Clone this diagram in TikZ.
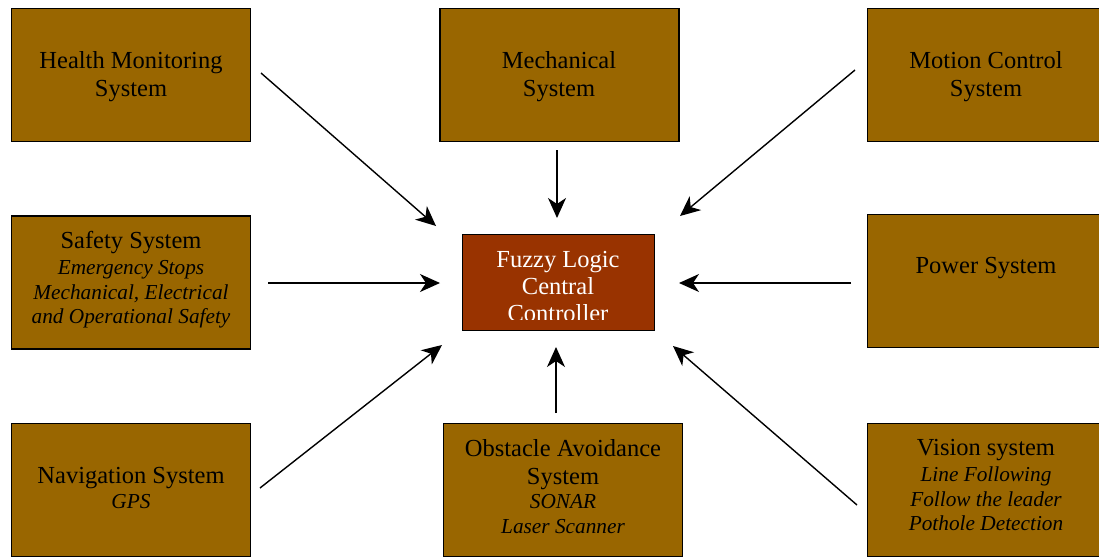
\documentclass[tikz,border=0pt]{standalone}
\usepackage{fontspec}
\setmainfont{Liberation Serif}
\usetikzlibrary{arrows.meta}
\definecolor{boxfill}{HTML}{996600}
\definecolor{corefill}{HTML}{993300}
\begin{document}
\begin{tikzpicture}[x=1pt,y=-1pt,
  sysbox/.style={draw=black,line width=1.6pt,fill=boxfill,minimum width=239pt,minimum height=133pt,inner sep=0pt},
  corebox/.style={draw=black,line width=1.6pt,fill=corefill,minimum width=192pt,minimum height=96pt,inner sep=0pt},
  lbl/.style={align=center,inner sep=0pt,font=\fontsize{24.5}{24.5}\selectfont},
  conn/.style={line width=1.4pt,-{Stealth[length=20pt,width=18pt,inset=6pt]}}]
\useasboundingbox (0,0) rectangle (1099,557);
\newcommand{\itln}[1]{{\itshape\fontsize{21.3}{24}\selectfont #1}}
% boxes
\node[sysbox] (health) at (131,75) {};
\node[sysbox] (mech) at (559.5,75) {};
\node[sysbox] (motion) at (987,75) {};
\node[sysbox] (safety) at (131,282.5) {};
\node[sysbox] (power) at (987,281) {};
\node[sysbox] (nav) at (131,490) {};
\node[sysbox] (obst) at (563,490) {};
\node[sysbox] (vision) at (987,490) {};
\node[corebox] (core) at (558.5,282.5) {};
% labels
\node[lbl] (healtht) at (131,76.5) {Health Monitoring\\[3.5pt]System};
\node[lbl] (mecht) at (559,76.5) {Mechanical\\[3.5pt]System};
\node[lbl] (motiont) at (986,76.5) {Motion Control\\[3.5pt]System};
\node[lbl] (safetyt) at (131,280) {Safety System\\[1.5pt]\itln{Emergency Stops}\\\itln{Mechanical, Electrical}\\\itln{and Operational Safety}};
\node[lbl] (powert) at (986,268) {Power System};
\node[lbl] (navt) at (131,488) {Navigation System\\\itln{GPS}};
\node[lbl] (obstt) at (563,486.5) {Obstacle Avoidance\\[3.5pt]System\\\itln{SONAR}\\\itln{Laser Scanner}};
\node[lbl] (visiont) at (986,485) {Vision system\\[1.5pt]\itln{Line Following}\\\itln{Follow the leader}\\\itln{Pothole Detection}};
\begin{scope}
\clip (463,235) rectangle (654,319);
\node[lbl,text=white] (coret) at (558,287) {Fuzzy Logic\\[2.5pt]Central\\[2.5pt]Controller};
\end{scope}
% connector ends
\coordinate (hs) at (261,73);   \coordinate (he) at (436,226);
\coordinate (ms) at (557,150);  \coordinate (me) at (557,218);
\coordinate (mos) at (855,70);  \coordinate (moe) at (680,216);
\coordinate (ss) at (268,283);  \coordinate (se) at (440,283);
\coordinate (ps) at (851,283);  \coordinate (pe) at (679,283);
\coordinate (ns) at (260,488);  \coordinate (ne) at (442,345);
\coordinate (os) at (556,413);  \coordinate (oe) at (556,347);
\coordinate (vs) at (857,505);  \coordinate (ve) at (673,346);
\draw[conn] (hs) -- (he);
\draw[conn] (ms) -- (me);
\draw[conn] (mos) -- (moe);
\draw[conn] (ss) -- (se);
\draw[conn] (ps) -- (pe);
\draw[conn] (ns) -- (ne);
\draw[conn] (os) -- (oe);
\draw[conn] (vs) -- (ve);
\end{tikzpicture}
\end{document}
